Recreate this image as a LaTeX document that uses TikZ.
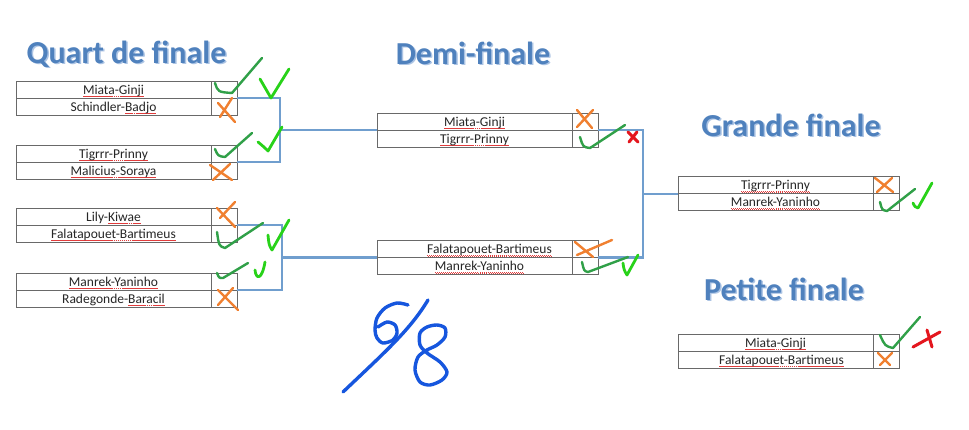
\documentclass[tikz,border=0pt]{standalone}
\usepackage{fontspec}
\setmainfont{Carlito}
\usetikzlibrary{positioning}
\definecolor{titleblue}{RGB}{79,129,189}
\definecolor{titleglow}{RGB}{172,196,228}
\definecolor{linkblue}{RGB}{112,158,206}
\definecolor{cellgray}{RGB}{105,105,105}
\definecolor{tickdark}{RGB}{48,160,72}
\definecolor{ticklime}{RGB}{40,210,25}
\definecolor{crossorange}{RGB}{240,128,48}
\definecolor{crossred}{RGB}{228,22,30}
\definecolor{inkblue}{RGB}{22,86,222}
\definecolor{waved}{RGB}{225,60,60}
% spell-checker squiggle under a name
\newsavebox\wavebox
\newcommand\redwave[1]{\sbox\wavebox{#1}\rlap{\color{waved}\lower2.6pt\hbox to\wd\wavebox{\xleaders\hbox to 2pt{\raise0.5pt\hbox{\rule{0.9pt}{0.6pt}}\rule{0.9pt}{0.6pt}\hss}\hfil}}\usebox\wavebox}
\newcommand\glowtitle[1]{\makebox[0pt][l]{\kern1.5pt\raisebox{-1.5pt}{\color{titleglow}#1}}#1}
\begin{document}
\begin{tikzpicture}[x=1pt,y=-1pt,
  team/.style={draw=cellgray,line width=0.8pt,outer sep=0pt,inner sep=0pt,minimum width=195pt,minimum height=17pt,
    text height=10.5pt,text depth=1.5pt,font=\fontsize{13.5}{16}\selectfont,text=black!85},
  res/.style={draw=cellgray,line width=0.8pt,outer sep=0pt,inner sep=0pt,minimum width=26pt,minimum height=17pt},
  title/.style={anchor=base,font=\fontsize{32}{38}\selectfont\bfseries,text=titleblue},
  link/.style={linkblue,line width=2.2pt},
  tickd/.style={tickdark,line width=2.4pt,line cap=round,line join=round},
  tickl/.style={ticklime,line width=2.8pt,line cap=round,line join=round},
  crosso/.style={crossorange,line width=2.4pt,line cap=round},
  crossr/.style={crossred,line width=3pt,line cap=round},
  ink/.style={inkblue,line width=3.4pt,line cap=round,line join=round}]
\fill[white] (0,0) rectangle (969,429);
\useasboundingbox (0,0) rectangle (969,429);

% titles
\node[title] (tq) at (126.5,63) {\glowtitle{Quart de finale}};
\node[title] (td) at (473,64) {\glowtitle{Demi-finale}};
\node[title] (tg) at (791,136) {\glowtitle{Grande finale}};
\node[title] (tp) at (784,300) {\glowtitle{Petite finale}};

% quarts
\node[team,anchor=north west] (q1a) at (16,81) {\redwave{Miata-Ginji}};
\node[team,below=0pt of q1a] (q1b) {Schindler-\redwave{Badjo}};
\node[res,right=0pt of q1a] (q1ar) {};
\node[res,right=0pt of q1b] (q1br) {};
\node[team,anchor=north west] (q2a) at (16,145) {\redwave{Tigrrr-Prinny}};
\node[team,below=0pt of q2a] (q2b) {\redwave{Malicius-Soraya}};
\node[res,right=0pt of q2a] (q2ar) {};
\node[res,right=0pt of q2b] (q2br) {};
\node[team,anchor=north west] (q3a) at (16,208) {Lily-\redwave{Kiwae}};
\node[team,below=0pt of q3a] (q3b) {\redwave{Falatapouet-Bartimeus}};
\node[res,right=0pt of q3a] (q3ar) {};
\node[res,right=0pt of q3b] (q3br) {};
\node[team,anchor=north west] (q4a) at (16,273) {\redwave{Manrek-Yaninho}};
\node[team,below=0pt of q4a] (q4b) {Radegonde-\redwave{Baracil}};
\node[res,right=0pt of q4a] (q4ar) {};
\node[res,right=0pt of q4b] (q4br) {};

% demis
\node[team,anchor=north west] (d1a) at (377,113) {\redwave{Miata-Ginji}};
\node[team,below=0pt of d1a] (d1b) {\redwave{Tigrrr-Prinny}};
\node[res,right=0pt of d1a] (d1ar) {};
\node[res,right=0pt of d1b] (d1br) {};
\node[team,anchor=north west] (d2a) at (377,240.5) {\hspace*{30pt}\redwave{Falatapouet-Bartimeus}};
\node[team,below=0pt of d2a] (d2b) {\hspace*{10pt}\redwave{Manrek-Yaninho}};
\node[res,right=0pt of d2a] (d2ar) {};
\node[res,right=0pt of d2b] (d2br) {};

% finales
\node[team,anchor=north west] (g1a) at (678,176.75) {\redwave{Tigrrr-Prinny}};
\node[team,below=0pt of g1a] (g1b) {\redwave{Manrek-Yaninho}};
\node[res,right=0pt of g1a] (g1ar) {};
\node[res,right=0pt of g1b] (g1br) {};
\node[team,anchor=north west] (p1a) at (678,334) {\redwave{Miata-Ginji}};
\node[team,below=0pt of p1a] (p1b) {\hspace*{12pt}\redwave{Falatapouet-Bartimeus}};
\node[res,right=0pt of p1a] (p1ar) {};
\node[res,right=0pt of p1b] (p1br) {};

% bracket lines
\coordinate (j1) at (280,130);
\coordinate (j2) at (282,257.5);
\coordinate (j3) at (643,193.75);
\draw[link] (q1ar.south east) -| (j1) |- (q2ar.south east);
\draw[link] (q3ar.south east) -| (j2) |- (q4ar.south east);
\draw[link] (j1) -- (d1a.south west);
\draw[link] (j2) -- (d2a.south west);
\draw[link] (d1ar.south east) -| (j3) |- (d2ar.south east);
\draw[link] (j3) -- (g1a.south west);

% handwritten ticks and crosses
\draw[tickd] (215,83) .. controls (218,92) .. (232,93) -- (262,58);
\draw[tickd] (215,149) .. controls (218,156) .. (225,157) -- (252,133);
\draw[tickd] (217,232) .. controls (219,246) .. (225,248) -- (263,223);
\draw[tickd] (217,273) .. controls (219,278) .. (223,278) -- (248,263);
\draw[tickd] (580,137) .. controls (583,147) .. (590,148) -- (625,125);
\draw[tickd] (582,262) .. controls (584,271) .. (588,272) -- (628,257);
\draw[tickd] (880,202) .. controls (882,210) .. (887,211) -- (915,189);
\draw[tickd] (880,335) .. controls (885,346) .. (893,348) -- (920,317);
\draw[tickl] (260,79) -- (271,98) -- (289,69);
\draw[tickl] (258,142) .. controls (264,147) .. (268,151) -- (282,127);
\draw[tickl] (268,235) .. controls (269,245) .. (272,250) -- (289,220);
\draw[tickl] (255,270) .. controls (256,280) and (262,280) .. (265,262);
\draw[tickl] (623,263) .. controls (624,270) .. (627,275) -- (638,255);
\draw[tickl] (913,203) .. controls (915,207) .. (918,208) -- (932,183);
\draw[crosso] (218,103) -- (235,122) (232,98) -- (220,117);
\draw[crosso] (210,165) -- (232,180) (230,164) -- (213,180);
\draw[crosso] (217,208) -- (235,227) (235,202) -- (220,218);
\draw[crosso] (218,290) -- (238,310) (233,288) -- (218,305);
\draw[crosso] (577,110) -- (592,128) (593,110) -- (577,127);
\draw[crosso] (575,242) -- (593,257) (577,255) -- (612,240);
\draw[crosso] (875,178) -- (893,192) (892,178) -- (877,192);
\draw[crosso] (878,353) -- (890,365) (892,353) -- (880,365);
\draw[crossr] (628,132) -- (638,142) (637,132) -- (629,142);
\draw[crossr] (913,347) -- (940,332) (927,330) -- (932,347);

% score 6/8
\draw[ink] (343,392) .. controls (385,352) and (410,330) .. (428,300);
\draw[ink] plot[smooth] coordinates {(408,305) (397,303) (385,308) (377,318) (375,330) (377,338) (383,343) (393,340) (397,333) (395,325) (387,322) (378,327)};
\draw[ink] plot[smooth cycle] coordinates {(420,333) (427,327) (437,325) (445,328) (445,337) (437,345) (427,350) (418,357) (415,370) (420,382) (430,385) (442,380) (447,372) (440,362) (427,353) (420,345)};
\end{tikzpicture}
\end{document}
